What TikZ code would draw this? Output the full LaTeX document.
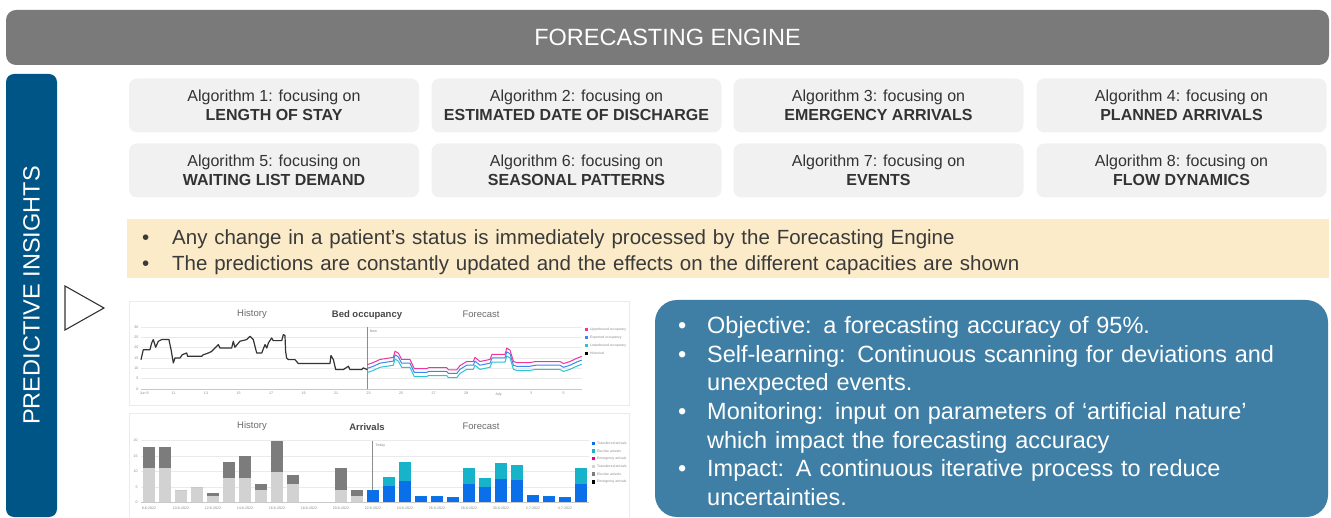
\documentclass[tikz,border=0pt]{standalone}
\usepackage{fontspec}
\setmainfont{Liberation Sans}

\definecolor{enginegray}{HTML}{7A7A7A}
\definecolor{insightblue}{HTML}{005587}
\definecolor{algofill}{HTML}{F1F1F1}
\definecolor{algotext}{HTML}{333333}
\definecolor{notefill}{HTML}{FCEBC8}
\definecolor{notetext}{HTML}{3A3A3A}
\definecolor{goalblue}{HTML}{3F7FA6}
\definecolor{gridgray}{HTML}{EAEAEA}
\definecolor{axisgray}{HTML}{C8C8C8}
\definecolor{ticktext}{HTML}{8A8A8A}
\definecolor{histline}{HTML}{333333}
\definecolor{fcpink}{HTML}{F0359A}
\definecolor{fcblue}{HTML}{3D86EE}
\definecolor{fccyan}{HTML}{2CC3D5}
\definecolor{barlight}{HTML}{D2D2D2}
\definecolor{bardark}{HTML}{7C7C7C}
\definecolor{barblue}{HTML}{0B6FEA}
\definecolor{barcyan}{HTML}{16B3C9}
\definecolor{barmagenta}{HTML}{E6007E}

\begin{document}
\begin{tikzpicture}[x=1pt,y=-1pt,
  banner/.style={fill=enginegray, rounded corners=10pt, minimum width=1323pt,
    minimum height=55pt, inner sep=0pt, text=white, font=\fontsize{23.5}{27}\selectfont},
  strip/.style={fill=insightblue, rounded corners=8pt, minimum width=443pt,
    minimum height=51pt, inner sep=0pt, text=white, font=\fontsize{23.5}{27}\selectfont, rotate=90},
  algo/.style={fill=algofill, rounded corners=8pt, minimum width=290pt, minimum height=54pt,
    inner sep=0pt, align=center, text=algotext, font=\fontsize{16}{19.5}\selectfont},
  noteband/.style={fill=notefill, minimum width=1202pt, minimum height=59pt, inner sep=0pt},
  notetext/.style={inner sep=0pt, anchor=base west, text width=1150pt, align=left,
    text=notetext, font=\fontsize{20.5}{26}\selectfont},
  goalbox/.style={fill=goalblue, rounded corners=22pt, minimum width=673pt,
    minimum height=217pt, inner sep=0pt},
  goaltext/.style={inner sep=0pt, anchor=base west, text width=630pt, align=left,
    text=white, font=\fontsize{23.5}{28.7}\selectfont},
  panel/.style={fill=white, draw=black!8, line width=1pt, minimum width=500pt},
  charttitle/.style={text=black!58, font=\fontsize{9.5}{11}\selectfont, inner sep=0pt},
  chartname/.style={text=black!72, font=\bfseries\fontsize{9.5}{11}\selectfont, inner sep=0pt},
  tick/.style={text=ticktext, font=\fontsize{3.6}{4}\selectfont, inner sep=0.8pt},
  legendtext/.style={text=ticktext, font=\fontsize{3.4}{4}\selectfont, inner sep=0pt, anchor=west},
  grid line/.style={draw=gridgray, line width=0.6pt},
  marker/.style={draw=black!45, line width=0.7pt},
  pointer/.style={draw=black!80, line width=1.1pt, fill=white, line join=miter}]

\useasboundingbox (0,0) rectangle (1331,518);

% header and side label
\node[banner] (engine) at (667.5,37.5) {FORECASTING ENGINE};
\node[strip] (insights) at (31.5,295.5) {PREDICTIVE INSIGHTS};
\draw[pointer] (65,286) -- (104,308) -- (65,330) -- cycle;

% algorithm tiles
\node[algo] (alg1) at (274,105.5)    {Algorithm 1: focusing on\\\textbf{LENGTH OF STAY}};
\node[algo] (alg2) at (576.5,105.5)  {Algorithm 2: focusing on\\\textbf{ESTIMATED DATE OF DISCHARGE}};
\node[algo] (alg3) at (878.5,105.5)  {Algorithm 3: focusing on\\\textbf{EMERGENCY ARRIVALS}};
\node[algo] (alg4) at (1181.5,105.5) {Algorithm 4: focusing on\\\textbf{PLANNED ARRIVALS}};
\node[algo] (alg5) at (274,170.5)    {Algorithm 5: focusing on\\\textbf{WAITING LIST DEMAND}};
\node[algo] (alg6) at (576.5,170.5)  {Algorithm 6: focusing on\\\textbf{SEASONAL PATTERNS}};
\node[algo] (alg7) at (878.5,170.5)  {Algorithm 7: focusing on\\\textbf{EVENTS}};
\node[algo] (alg8) at (1181.5,170.5) {Algorithm 8: focusing on\\\textbf{FLOW DYNAMICS}};

% status note
\node[noteband] (changes) at (728,248.5) {};
\node[notetext] (changestext) at (142,244.3) {%
  \makebox[30pt][l]{\textbullet}Any change in a patient's status is immediately processed by the Forecasting Engine\\
  \makebox[30pt][l]{\textbullet}The predictions are constantly updated and the effects on the different capacities are shown};

% goals box
\node[goalbox] (goals) at (991.5,408.5) {};
\node[goaltext] (goalstext) at (678,333.4) {%
  \makebox[29pt][l]{\textbullet}Objective: a forecasting accuracy of 95\%.\\
  \makebox[29pt][l]{\textbullet}Self-learning: Continuous scanning for deviations and\\
  \hspace*{29pt}unexpected events.\\
  \makebox[29pt][l]{\textbullet}Monitoring: input on parameters of ‘artificial nature’\\
  \hspace*{29pt}which impact the forecasting accuracy\\
  \makebox[29pt][l]{\textbullet}Impact: A continuous iterative process to reduce\\
  \hspace*{29pt}uncertainties.};

% ---------- bed occupancy chart ----------
\node[panel, minimum height=104pt] (occpanel) at (379,354) {};
\node[charttitle] (occhist) at (252,314) {History};
\node[chartname]  (occname) at (367,315) {Bed occupancy};
\node[charttitle] (occfc)   at (481,314) {Forecast};

\begin{scope}[shift={(141,389)}, x=16.25pt, y=2.067pt]
  \foreach \v in {5,10,...,30} \draw[grid line] (0,\v) -- (27.12,\v);
  \draw[axisgray, line width=0.7pt] (0,0) -- (27.12,0);
  \foreach \v in {0,5,...,30} \node[tick, anchor=east] (occy\v) at (-0.1,\v) {\v};
  \foreach \d/\t in {0.2/Jun 9, 2/11, 4/13, 6/15, 8/17, 10/19, 12/21, 14/23, 16/25,
                     18/27, 20/29, 22/July, 24/3, 26/5}
    \node[tick, anchor=north] (occx\d) at (\d,-1.2) {\t};
  \draw[marker] (13.93,0) -- (13.93,30);
  \node[tick, anchor=west] (occnow) at (14.02,27.8) {Now};
  % recorded occupancy
  \draw[histline, line width=1.2pt, line join=round] plot coordinates {
    (0,14.2) (0.14,19) (0.55,19) (0.66,22.3) (0.76,23.9) (0.9,20.2) (1.07,23.1)
    (1.27,23.9) (1.72,23.9) (1.85,19) (1.99,12.6) (2.09,15) (2.4,15) (2.54,16.6)
    (2.81,17.4) (2.87,15.8) (3.73,15.8) (3.84,16.6) (4.14,17.4) (4.35,18.2)
    (4.66,20.7) (4.76,21.5) (4.86,19.8) (5.58,19.8) (5.68,23.1) (5.78,20.2)
    (6.09,23.1) (6.5,23.9) (6.71,25.5) (6.91,23.9) (7.12,17.4) (7.43,17.4)
    (7.63,21.5) (7.74,19.8) (7.84,22.3) (8.04,24.7) (8.14,23.4) (8.66,23.4)
    (8.76,26.3) (8.86,25.9) (8.9,18.2) (8.96,15) (9.07,14.2) (9.48,14.2)
    (9.68,12.3) (11.63,12.3) (11.69,16.2) (11.84,14.2) (11.98,9.4) (12.45,9.4)
    (12.76,11) (12.86,9.4) (13.58,9.4) (13.68,10.2) (13.93,9.4)};
  % forecast band: lower bound, expected, upper bound
  \foreach \off/\col in {-2/fccyan, 0/fcblue, 1.8/fcpink}
    \draw[\col, line width=1pt, line join=round, yshift=\off*2.067pt] plot coordinates {
      (13.93,10) (14.3,11) (14.71,12.5) (15.53,13.5) (15.63,16.5) (15.84,15.5)
      (16.04,12.5) (16.55,12.5) (16.82,8) (17.58,8) (17.7,8.5) (18.81,8.5)
      (18.92,7.5) (19.43,7.5) (19.63,9.5) (20.04,11.5) (20.45,11.5) (20.55,13.5)
      (20.86,11.5) (21.48,12.5) (21.6,15) (22.4,15) (22.51,18) (22.71,17)
      (22.92,11.5) (23.12,11) (23.94,11) (24.3,11.5) (25.78,11.5) (26.0,10.5)
      (26.4,11.5) (26.8,13) (27.12,14)};
\end{scope}

\foreach \i/\c/\t in {0/fcpink/Upperbound occupancy, 1/fcblue/Expected occupancy,
                      2/fccyan/Lowerbound occupancy, 3/black/Historical} {
  \fill[\c] (584.5,327.6+8*\i) rectangle ++(3.4,3.4);
  \node[legendtext] (occleg\i) at (590,329.3+8*\i) {\t};
}

% ---------- arrivals chart ----------
\node[panel, minimum height=108pt] (arrpanel) at (379,468) {};
\node[charttitle] (arrhist) at (252,426) {History};
\node[chartname]  (arrname) at (367,427) {Arrivals};
\node[charttitle] (arrfc)   at (481,426) {Forecast};

\begin{scope}[shift={(141,502.3)}, x=16pt, y=3.08pt]
  \foreach \v in {5,10,...,20} \draw[grid line] (0,\v) -- (28,\v);
  \draw[axisgray, line width=0.7pt] (0,0) -- (28,0);
  \foreach \v in {0,5,...,20} \node[tick, anchor=east] (arry\v) at (-0.15,\v) {\v};
  \foreach \i/\t in {0/8-6-2022, 2/10-6-2022, 4/12-6-2022, 6/14-6-2022, 8/16-6-2022,
                     10/18-6-2022, 12/20-6-2022, 14/22-6-2022, 16/24-6-2022,
                     18/26-6-2022, 20/28-6-2022, 22/30-6-2022, 24/2-7-2022, 26/4-7-2022}
    \node[tick, anchor=north] (arrx\i) at (\i+0.5,-1.3) {\t};
  \draw[marker] (14.45,0) -- (14.45,20);
  \node[tick, anchor=west] (arrtoday) at (14.6,18.3) {Today};
  % recorded arrivals: transferred (light) and elective (dark)
  \foreach \i/\lo/\hi in {0/11/18, 1/11/18, 2/4/4, 3/5/5, 4/2/3, 5/8/13, 6/8/15,
                          7/4/6, 8/10/20, 9/6/9, 12/4/11, 13/2/4} {
    \fill[barlight] ({\i+0.125},0) rectangle ({\i+0.875},\lo);
    \fill[bardark]  ({\i+0.125},\lo) rectangle ({\i+0.875},\hi);
  }
  % forecast arrivals: transferred (blue) and elective (cyan)
  \foreach \i/\lo/\hi in {14/4/4, 15/5.3/8.3, 16/7/13.2, 17/2.1/2.1, 18/2/2,
                          19/1.8/1.8, 20/5.8/11, 21/5/8, 22/7.6/12.7, 23/7.1/12.2,
                          24/2.3/2.3, 25/2/2, 26/1.8/1.8, 27/6/11.1} {
    \fill[barblue] ({\i+0.125},0) rectangle ({\i+0.875},\lo);
    \fill[barcyan] ({\i+0.125},\lo) rectangle ({\i+0.875},\hi);
  }
\end{scope}

\foreach \i/\c/\t in {0/barblue/Transferred arrivals, 1/barcyan/Elective arrivals,
                      2/barmagenta/Emergency arrivals, 3/barlight/Transferred arrivals,
                      4/bardark/Elective arrivals, 5/black/Emergency arrivals} {
  \fill[\c] (591.5,441.6+7.7*\i) rectangle ++(3.4,3.4);
  \node[legendtext] (arrleg\i) at (597,443.3+7.7*\i) {\t};
}

\end{tikzpicture}
\end{document}
